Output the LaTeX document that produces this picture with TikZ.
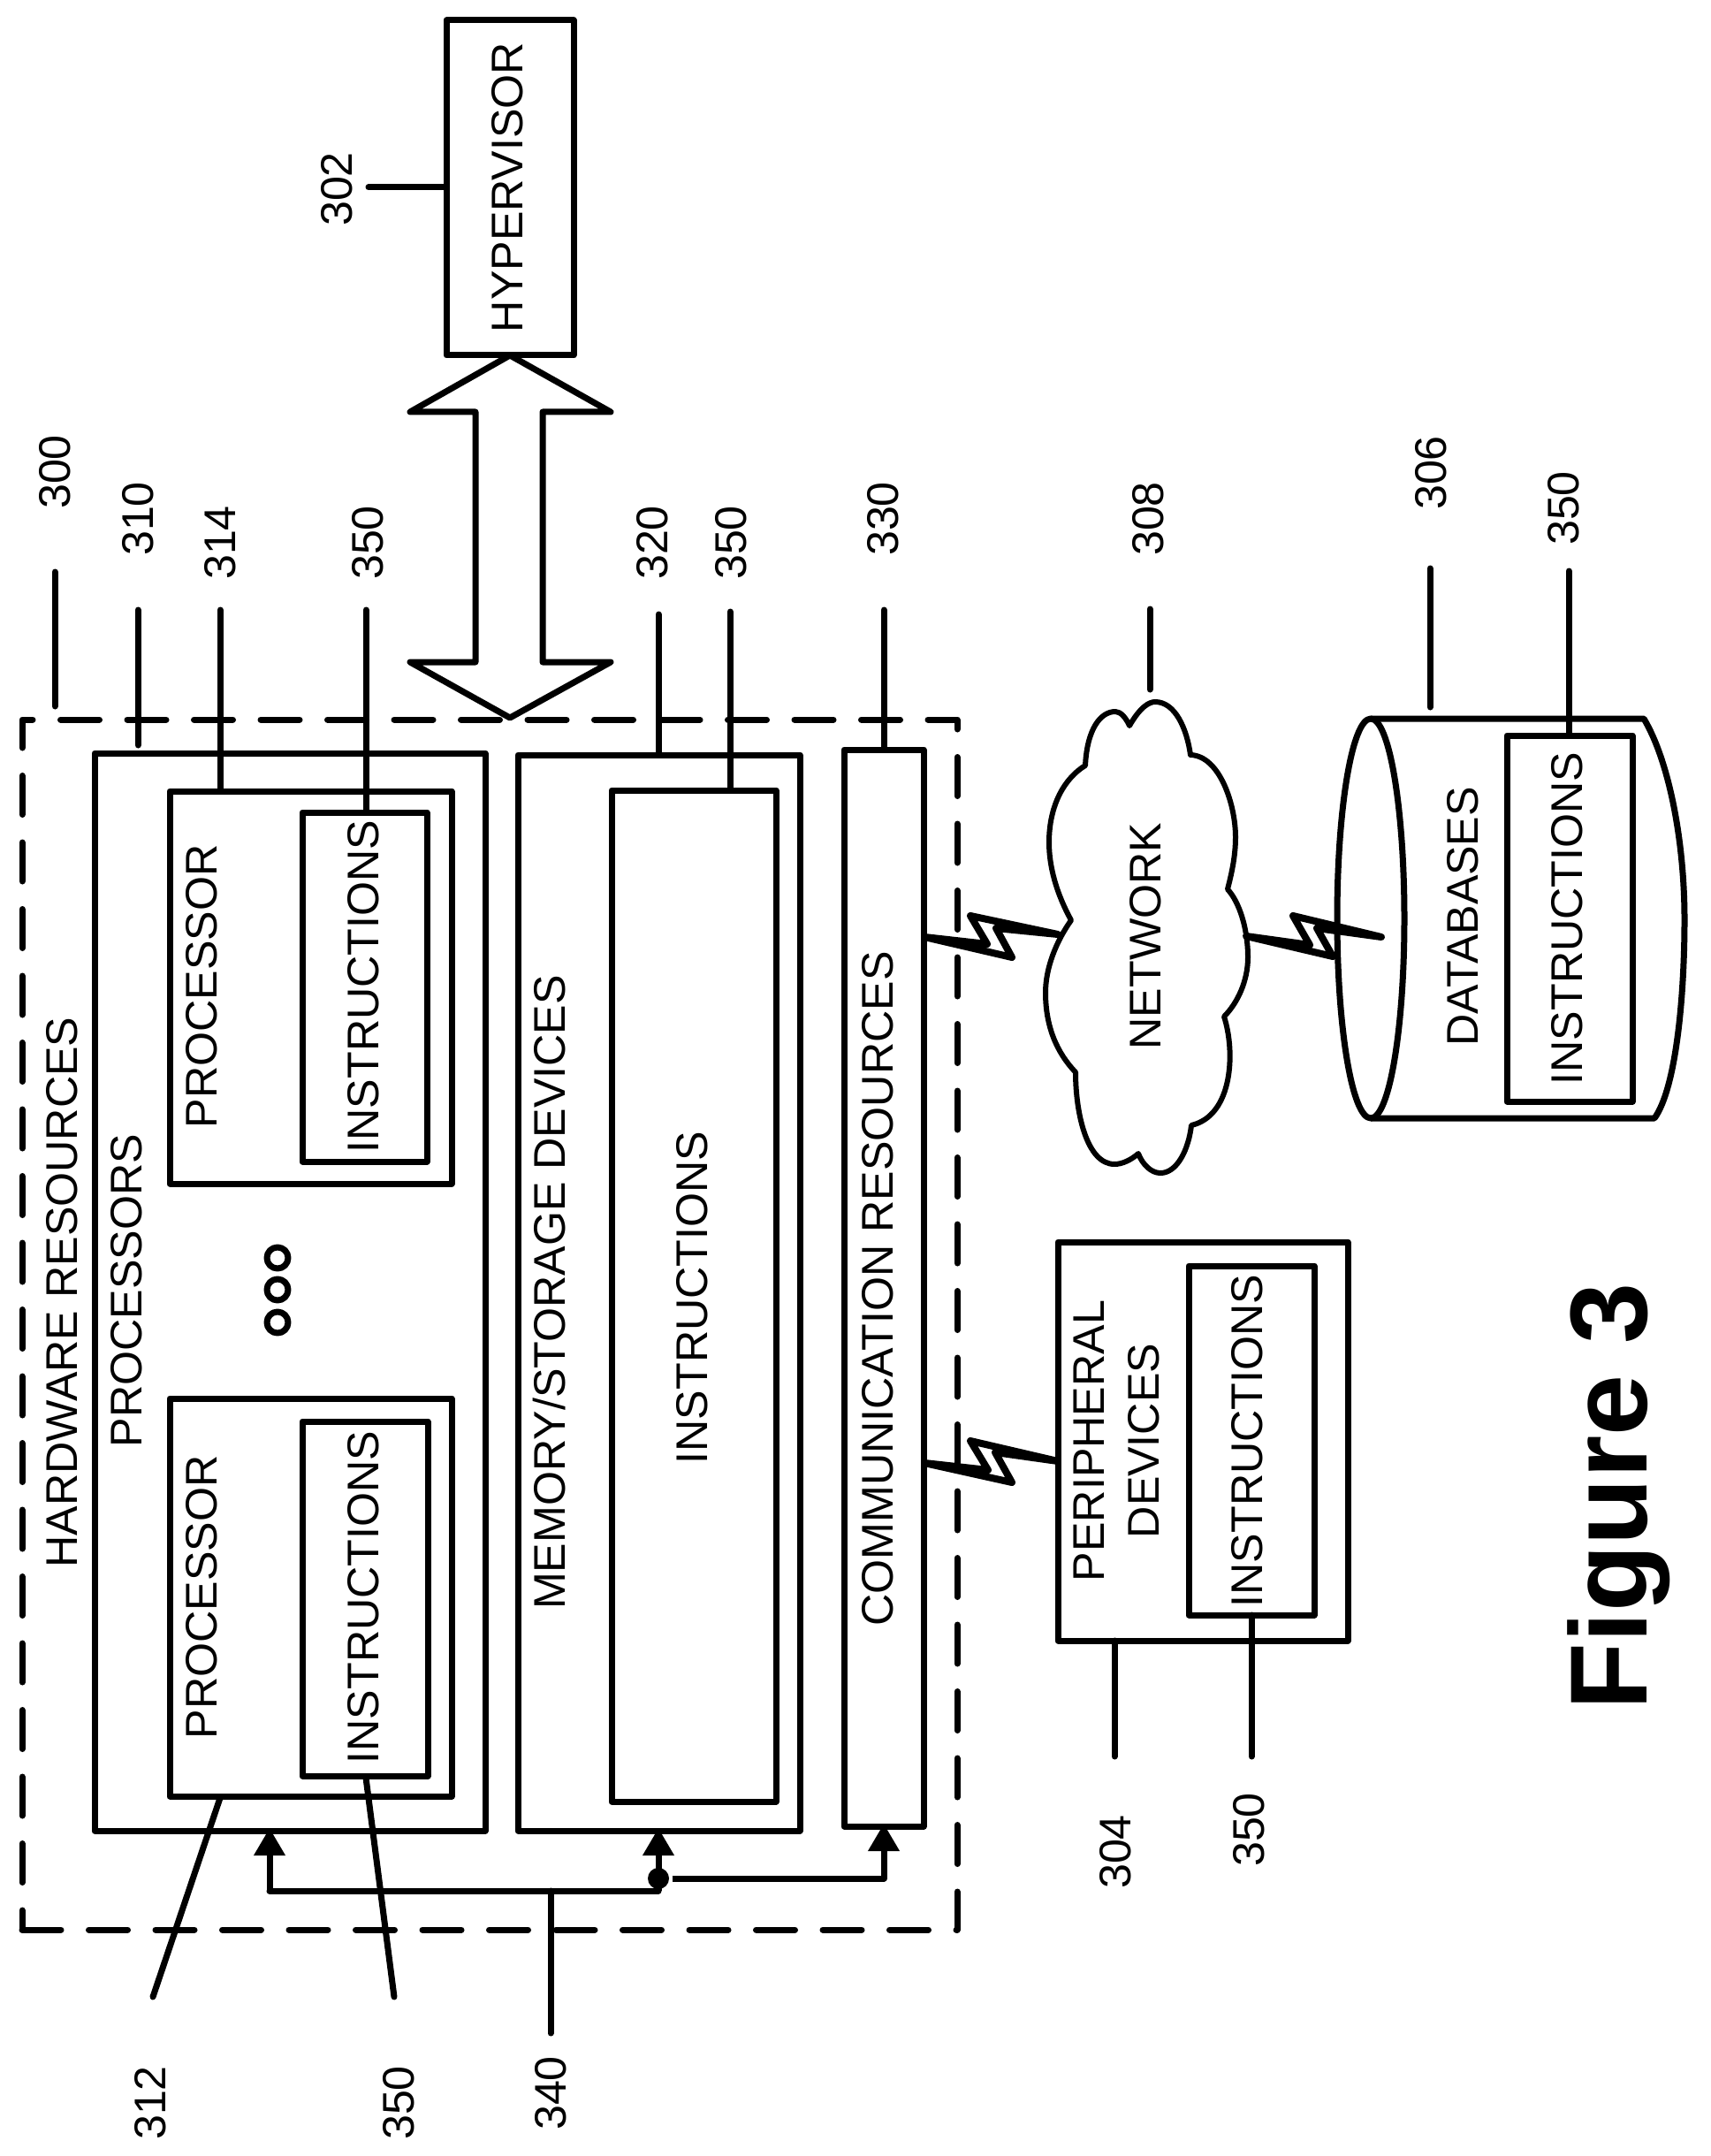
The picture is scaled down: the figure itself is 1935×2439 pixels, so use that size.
\documentclass[tikz,border=0pt]{standalone}
\usepackage{fontspec}
\setmainfont{Liberation Sans}
\usetikzlibrary{arrows.meta,positioning,shapes,calc}

\begin{document}
\begin{tikzpicture}[x=0.5pt, y=-0.5pt, line width=3.5pt, line join=round,
    font=\fontsize{25.1}{31}\selectfont,
    box/.style={rectangle, draw, anchor=north west, outer sep=0pt, inner sep=0pt},
    lbl/.style={rotate=90, inner sep=0pt, align=center},
    lead/.style={line cap=round},
    arrow/.style={-{Triangle[length=15.5pt,width=17pt]}, shorten >=-1.5pt},
    bolt/.style={line width=4pt}
]
    \useasboundingbox (0,0) rectangle (1935,2439);

    % Hardware resources
    \node[box, line cap=round, dash pattern=on 22pt off 15.75pt, minimum width=529pt, minimum height=684.5pt] (hwres) at (25,814) {};
    \node[lbl] (hwres_txt) at (70,1462) {HARDWARE RESOURCES};

    % Hypervisor
    \node[box, minimum width=72pt, minimum height=189.5pt] (hyper) at (505,23) {};
    \node[lbl] (hyper_txt) at (574,212) {HYPERVISOR};

    % Processors
    \node[box, minimum width=221pt, minimum height=609.5pt] (procs) at (107,852) {};
    \node[lbl] (procs_txt) at (143,1460) {PROCESSORS};
    \node[box, minimum width=159.5pt, minimum height=222pt] (cpu_a) at (192,895) {};
    \node[lbl] (cpu_a_txt) at (228,1116) {PROCESSOR};
    \node[box, minimum width=70.5pt, minimum height=197.5pt] (cpu_a_ins) at (342,919) {};
    \node[lbl] (cpu_a_ins_txt) at (411,1116) {INSTRUCTIONS};
    \node[box, minimum width=159.5pt, minimum height=225pt] (cpu_b) at (192,1582) {};
    \node[lbl] (cpu_b_txt) at (228,1807) {PROCESSOR};
    \node[box, minimum width=71pt, minimum height=200.5pt] (cpu_b_ins) at (342,1608) {};
    \node[lbl] (cpu_b_ins_txt) at (411,1807) {INSTRUCTIONS};

    % Dots between the processors
    \node[circle, draw, minimum size=12pt, inner sep=0pt] (dot_a) at (314,1423) {};
    \node[circle, draw, minimum size=12pt, inner sep=0pt] (dot_b) at (314,1459) {};
    \node[circle, draw, minimum size=12pt, inner sep=0pt] (dot_c) at (314,1496) {};

    % Memory
    \node[box, minimum width=159.5pt, minimum height=608.5pt] (mem) at (586,854) {};
    \node[lbl] (mem_txt) at (622,1462) {MEMORY/STORAGE DEVICES};
    \node[box, minimum width=93pt, minimum height=572pt] (mem_ins) at (692,894) {};
    \node[lbl] (mem_ins_txt) at (783,1468) {INSTRUCTIONS};

    % Communication
    \node[box, minimum width=45pt, minimum height=609pt] (comm) at (955,848) {};
    \node[lbl] (comm_txt) at (993,1458) {COMMUNICATION RESOURCES};

    % Peripheral devices
    \node[box, minimum width=164pt, minimum height=225.5pt] (periph) at (1197,1405) {};
    \node[lbl] (periph_txt) at (1263,1630) {PERIPHERAL\\DEVICES};
    \node[box, minimum width=71pt, minimum height=197.5pt] (periph_ins) at (1345,1432) {};
    \node[lbl] (periph_ins_txt) at (1411,1630) {INSTRUCTIONS};

    % Network
    \node[lbl] (net_txt) at (1296,1059) {NETWORK};
    \draw[line width=3pt] (1278,821) .. controls (1290,800) and (1300,794) .. (1307,794)
        .. controls (1330,794) and (1343,825) .. (1347,854)
        .. controls (1380,855) and (1398,910) .. (1398,947)
        .. controls (1398,970) and (1393,990) .. (1389,1006)
        .. controls (1402,1020) and (1412,1050) .. (1412,1083)
        .. controls (1412,1110) and (1400,1135) .. (1385,1150)
        .. controls (1398,1190) and (1395,1262) .. (1348,1273)
        .. controls (1345,1300) and (1332,1327) .. (1313,1327)
        .. controls (1303,1327) and (1293,1318) .. (1288,1305)
        .. controls (1280,1312) and (1270,1317) .. (1261,1317)
        .. controls (1230,1317) and (1217,1260) .. (1217,1213)
        .. controls (1195,1190) and (1183,1160) .. (1183,1123)
        .. controls (1183,1095) and (1195,1065) .. (1212,1041)
        .. controls (1195,1010) and (1187,980) .. (1187,953)
        .. controls (1187,910) and (1205,880) .. (1228,866)
        .. controls (1230,825) and (1245,805) .. (1262,805)
        .. controls (1268,805) and (1274,812) .. (1278,821) -- cycle;

    % Databases
    \node[ellipse, draw, minimum width=38pt, minimum height=226pt, inner sep=0pt, outer sep=0pt] (db) at (1551,1039) {};
    \draw (db.north) -- (1860,813) .. controls (1888,860) and (1906,950) .. (1906,1040)
        .. controls (1906,1130) and (1896,1232) .. (1872,1265) -- (db.south);
    \node[lbl] (db_txt) at (1655,1037) {DATABASES};
    \node[box, minimum width=71pt, minimum height=207pt] (db_ins) at (1705,832) {};
    \node[lbl] (db_ins_txt) at (1773,1039) {INSTRUCTIONS};

    % Double arrow
    \coordinate (harrow) at (577,812);
    \draw (hyper.south) -- (464,466) -- (538,466) -- (538,749) -- (464,749) -- (harrow)
        -- (691,749) -- (614,749) -- (614,466) -- (691,466) -- cycle;

    % Wireless links
    \coordinate (bolt_a) at (1046,1060);
    \coordinate (bolt_b) at (1197,1057);
    \draw[bolt] (bolt_a) -- (1145,1083) -- (1127,1050) -- (bolt_b) -- (1098,1036) -- (1117,1068) -- cycle;
    \coordinate (bolt_c) at (1410,1059);
    \coordinate (bolt_d) at (1563,1060);
    \draw[bolt] (bolt_c) -- (1508,1082) -- (1490,1050) -- (bolt_d) -- (1463,1036) -- (1482,1069) -- cycle;
    \coordinate (bolt_e) at (1046,1655);
    \coordinate (bolt_f) at (1197,1653);
    \draw[bolt] (bolt_e) -- (1145,1677) -- (1126,1643) -- (bolt_f) -- (1098,1630) -- (1118,1663) -- cycle;

    % Bus
    \coordinate (bus_l) at (305,2139);
    \coordinate (bus_r) at (745,2139);
    \node[circle, fill, minimum size=12pt, inner sep=0pt] (bus_dot) at (745,2125) {};
    \draw[lead] (bus_l) -- (bus_r);
    \draw[arrow] (bus_l) -- (bus_l |- procs.south);
    \draw[arrow] (bus_r) -- (bus_r |- mem.south);
    \draw[arrow] (bus_dot) -| (comm.south);

    % Reference numbers
    \node[lbl] (r300) at (62,534) {300};
    \coordinate (a300) at (62,647);
    \coordinate (b300) at (62,799);
    \draw[lead] (a300) -- (b300);
    \node[lbl] (r310) at (156,587) {310};
    \coordinate (a310) at (156,690);
    \coordinate (b310) at (156,843);
    \draw[lead] (a310) -- (b310);
    \node[lbl] (r314) at (249,614) {314};
    \coordinate (a314) at (249,690);
    \draw[lead] (a314) -- (a314 |- cpu_a.north);
    \node[lbl] (r350a) at (416,614) {350};
    \coordinate (a350a) at (414,690);
    \draw[lead] (a350a) -- (a350a |- cpu_a_ins.north);
    \node[lbl] (r320) at (738,614) {320};
    \coordinate (a320) at (745,695);
    \draw[lead] (a320) -- (a320 |- mem.north);
    \node[lbl] (r350b) at (827,614) {350};
    \coordinate (a350b) at (826,692);
    \draw[lead] (a350b) -- (a350b |- mem_ins.north);
    \node[lbl] (r330) at (999,587) {330};
    \coordinate (a330) at (1000,690);
    \draw[lead] (a330) -- (a330 |- comm.north);
    \node[lbl] (r302) at (381,214) {302};
    \coordinate (a302) at (417,212);
    \draw[lead] (a302) -- (a302 -| hyper.west);
    \node[lbl] (r308) at (1299,587) {308};
    \coordinate (a308) at (1301,689);
    \coordinate (b308) at (1301,780);
    \draw[lead] (a308) -- (b308);
    \node[lbl] (r306) at (1619,535) {306};
    \coordinate (a306) at (1618,643);
    \coordinate (b306) at (1618,800);
    \draw[lead] (a306) -- (b306);
    \node[lbl] (r350c) at (1769,575) {350};
    \coordinate (a350c) at (1775,646);
    \draw[lead] (a350c) -- (a350c |- db_ins.north);
    \node[lbl] (r304) at (1262,2095) {304};
    \coordinate (a304) at (1261,1987);
    \draw[lead] (a304) -- (a304 |- periph.south);
    \node[lbl] (r350d) at (1413,2070) {350};
    \coordinate (a350d) at (1416,1987);
    \draw[lead] (a350d) -- (a350d |- periph_ins.south);
    \node[lbl] (r312) at (170,2379) {312};
    \coordinate (a312) at (173,2259);
    \coordinate (b312) at (249,2034);
    \draw[lead] (a312) -- (b312);
    \node[lbl] (r350e) at (451,2379) {350};
    \coordinate (a350e) at (446,2259);
    \coordinate (b350e) at (414,2011);
    \draw[lead] (a350e) -- (b350e);
    \node[lbl] (r340) at (623,2368) {340};
    \coordinate (a340) at (623,2300);
    \draw[lead] (a340) -- (a340 |- bus_l);

    % Title
    \node[rotate=90, anchor=base, inner sep=0pt, font=\fontsize{62}{62}\selectfont\bfseries] (fig) at (1863,1693) {Figure 3};
\end{tikzpicture}
\end{document}
